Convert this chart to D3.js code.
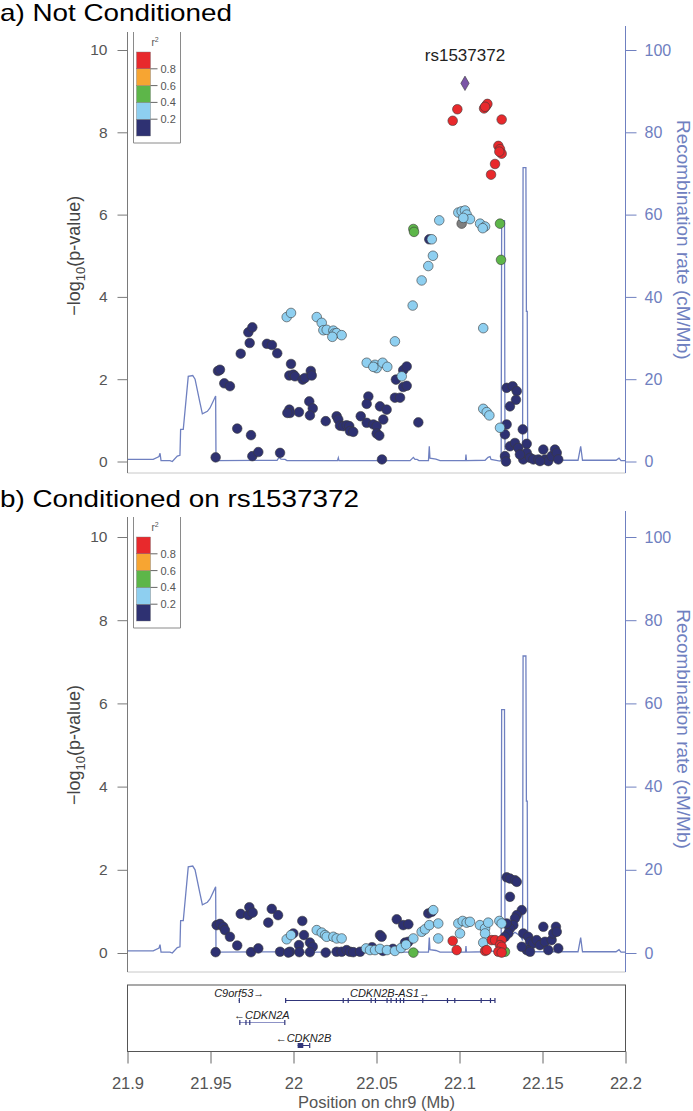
<!DOCTYPE html>
<html><head><meta charset="utf-8">
<script src="https://cdn.jsdelivr.net/npm/d3@7"></script>
<style>body{margin:0;background:#fff;} svg{display:block;font-family:"Liberation Sans",Arial,Helvetica,sans-serif;}</style>
</head><body>
<svg id="c" width="693" height="1111"></svg>
<script>
// ---------------- data ----------------
const xTicks = [21.9, 21.95, 22, 22.05, 22.1, 22.15, 22.2];
const xTickLabels = ["21.9", "21.95", "22", "22.05", "22.1", "22.15", "22.2"];
const yTicks = [0, 2, 4, 6, 8, 10];
const recTicks = [0, 20, 40, 60, 80, 100];
const legendBreaks = ["0.8", "0.6", "0.4", "0.2"];
const r2Colors = ["#2e3172", "#8ecff0", "#5db649", "#f7a532", "#e8292c"]; // 0-0.2 ... 0.8-1
const indexSNP = "rs1537372";
const panelTitles = ["a) Not Conditioned", "b) Conditioned on rs1537372"];

// top panel: [position Mb, -log10 p]
const topGray = [[22.1013, 5.78]];
const topNavy = [
 [21.9531,0.10],[21.9545,2.20],[21.9557,2.23],[21.9583,1.90],[21.9617,1.83],[21.9661,0.80],[21.9682,2.62],
 [21.9728,3.14],[21.9752,3.26],[21.9736,2.88],[21.9744,0.64],[21.9752,0.13],[21.9788,0.23],[21.9840,2.86],
 [21.9870,2.83],[21.9902,2.63],[21.9919,0.21],[21.9985,2.37],[21.9975,2.09],[21.9999,2.11],[22.0009,2.07],
 [21.9975,1.26],[21.9979,1.18],[21.9963,1.18],[22.0033,1.20],[22.0055,1.99],[22.0069,2.03],[22.0104,2.20],
 [22.0110,2.09],[22.0095,1.46],[22.0116,1.29],[22.0099,1.12],[22.0194,0.98],[22.0260,1.10],[22.0270,1.02],
 [22.0280,0.87],[22.0300,0.86],[22.0320,0.88],[22.0336,0.86],[22.0340,0.74],[22.0360,0.72],[22.0405,1.10],
 [22.0441,0.94],[22.0451,1.58],[22.0441,1.40],[22.0521,1.34],[22.0561,1.26],[22.0541,1.02],[22.0481,0.90],
 [22.0501,0.86],[22.0501,0.68],[22.0517,0.63],[22.0533,0.05],[22.0617,1.99],[22.0661,2.22],[22.0682,2.31],
 [22.0661,1.81],[22.0682,1.84],[22.0611,1.55],[22.0642,1.55],[22.0752,0.95],[22.1284,1.79],[22.1320,1.83],
 [22.1345,1.71],[22.1340,1.50],[22.1304,1.34],[22.1284,0.90],[22.1274,0.66],[22.1381,0.78],[22.1274,0.13],
 [22.1280,0.00],[22.1304,0.37],[22.1334,0.45],[22.1354,0.33],[22.1405,0.43],[22.1384,0.05],[22.1405,0.21],
 [22.1425,0.09],[22.1445,0.05],[22.1475,0.05],[22.1505,0.29],[22.1515,0.05],[22.1535,0.01],[22.1555,0.13],
 [22.1575,0.29],[22.1586,0.21],[22.1595,0.05],[22.1485,0.01],[22.1364,0.17],[22.0818,5.40]
];
const topLightBlue = [
 [21.9959,3.51],[21.9985,3.61],[22.0140,3.51],[22.0170,3.37],[22.0180,3.19],[22.0200,3.20],[22.0240,3.18],
 [22.0246,3.11],[22.0260,3.12],[22.0290,3.07],[22.0234,3.03],[22.0441,2.40],[22.0491,2.35],[22.0501,2.27],
 [22.0537,2.40],[22.0565,2.30],[22.0481,2.30],[22.0652,2.07],[22.0611,2.92],[22.0718,3.79],[22.0772,4.40],
 [22.0812,4.75],[22.0840,5.00],[22.0833,5.40],[22.0878,5.86],
 [22.1143,3.24],[22.1143,1.28],[22.1164,1.20],[22.1180,1.12],[22.1244,0.82],
 [22.0993,6.05],[22.1013,6.08],[22.1033,6.10],[22.1043,6.00],[22.1063,5.89],[22.1023,5.92],
 [22.1124,5.78],[22.1154,5.71],[22.1140,5.67]
];
const topGreen = [[22.0722,5.65],[22.0726,5.58],[22.1244,5.78],[22.1250,4.90]];
const topOrange = [];
const topRed = [
 [22.0987,8.56],[22.0959,8.28],[22.1148,8.58],[22.1160,8.64],[22.1168,8.69],[22.1154,8.62],[22.1254,8.31],
 [22.1234,7.67],[22.1244,7.59],[22.1254,7.48],[22.1240,7.53],[22.1214,7.23],[22.1190,6.97]
];
const topIndex = [[22.1033, 9.19]];

// bottom panel
const botGray = [[22.1505,0.23]];
const botNavy = [
 [21.9531,0.02],[21.9537,0.67],[21.9557,0.70],[21.9577,0.63],[21.9587,0.55],[21.9617,0.39],[21.9661,0.18],
 [21.9682,0.94],[21.9728,0.91],[21.9734,1.10],[21.9754,0.97],[21.9744,0.02],[21.9788,0.11],[21.9869,1.06],
 [21.9907,0.91],[21.9848,0.73],[21.9919,0.03],[21.9979,0.03],[21.9969,0.01],[21.9999,0.47],[22.0033,0.19],
 [22.0035,0.02],[22.0053,0.77],[22.0063,0.43],[22.0099,0.25],[22.0116,0.15],[22.0099,0.02],[22.0194,0.01],
 [22.0260,0.03],[22.0290,0.03],[22.0320,0.07],[22.0340,0.03],[22.0360,0.02],[22.0401,0.03],[22.0521,0.43],
 [22.0531,0.39],[22.0622,0.81],[22.0661,0.67],[22.0692,0.69],[22.0812,0.95],[22.0833,0.99],[22.0672,0.25],
 [22.0692,0.27],[22.0473,0.14],[22.0539,0.05],[22.0599,0.10],
 [22.1284,1.82],[22.1304,1.79],[22.1334,1.75],[22.1345,1.71],[22.1304,1.35],[22.1375,1.03],[22.1345,0.91],
 [22.1334,0.83],[22.1324,0.67],[22.1304,0.59],[22.1284,0.71],[22.1294,0.47],[22.1274,0.39],[22.1384,0.47],
 [22.1414,0.39],[22.1425,0.27],[22.1445,0.23],[22.1465,0.31],[22.1485,0.19],[22.1505,0.63],[22.1515,0.27],
 [22.1535,0.07],[22.1555,0.31],[22.1565,0.47],[22.1581,0.63],[22.1586,0.51],[22.1595,0.11],[22.1405,0.07],
 [22.1425,0.03],[22.1375,0.15]
];
const botLightBlue = [
 [21.9959,0.33],[21.9985,0.43],[22.0140,0.55],[22.0170,0.49],[22.0190,0.43],[22.0200,0.39],[22.0240,0.39],
 [22.0260,0.35],[22.0290,0.35],[22.0437,0.11],[22.0461,0.07],[22.0491,0.07],[22.0521,0.10],[22.0563,0.07],
 [22.0611,0.05],[22.0648,0.12],[22.0678,0.20],[22.0722,0.35],[22.0772,0.51],[22.0792,0.57],[22.0818,0.67],
 [22.0842,1.03],[22.0872,0.71],[22.0872,0.35],[22.0993,0.71],[22.1003,0.47],[22.1019,0.77],[22.1043,0.73],
 [22.1063,0.75],[22.1123,0.67],[22.1154,0.59],[22.1173,0.73],[22.1154,0.47],[22.1143,0.25],[22.1240,0.77],
 [22.1254,0.71]
];
const botGreen = [[22.0722,0.01],[22.1274,0.03]];
const botOrange = [];
const botRed = [
 [22.0959,0.29],[22.0983,0.07],[22.1154,0.05],[22.1164,0.07],[22.1194,0.31],[22.1214,0.31],[22.1254,0.31],
 [22.1244,0.19],[22.1254,0.15],[22.1234,0.03],[22.1254,0.01]
];

// recombination rate: [position Mb, cM/Mb]
const recomb = [
 [21.9000,0.5],[21.9155,0.5],[21.9190,1.2],[21.9196,2.0],[21.9202,0.2],[21.9256,0.2],[21.9270,0.0],[21.9300,1.3],
 [21.9316,1.5],[21.9320,7.8],[21.9336,7.8],[21.9366,20.7],[21.9393,20.9],[21.9407,20.0],[21.9437,14.2],
 [21.9451,11.6],[21.9481,12.2],[21.9497,13.0],[21.9531,15.9],[21.9533,1.3],[21.9539,0.2],[21.9901,0.3],
 [21.9913,1.0],[21.9925,0.6],[21.9949,0.5],[21.9961,0.2],[22.0265,0.2],[22.0270,0.9],[22.0274,0.2],
 [22.0702,0.2],[22.0722,1.0],[22.0732,0.5],[22.0744,0.5],[22.0756,0.2],[22.0813,0.2],[22.0818,3.7],
 [22.0822,0.8],[22.0858,0.6],[22.0883,0.2],[22.1036,0.2],[22.1039,1.7],[22.1042,0.2],[22.1154,0.3],
 [22.1172,1.0],[22.1184,1.2],[22.1190,0.5],[22.1244,0.1],[22.1251,0.5],[22.1254,58.5],[22.1271,58.5],
 [22.1274,3.0],[22.1304,4.0],[22.1334,5.0],[22.1370,4.0],[22.1380,3.0],[22.1383,71.4],[22.1400,71.4],
 [22.1403,36.5],[22.1408,36.5],[22.1411,1.0],[22.1425,0.3],[22.1714,0.3],[22.1730,3.7],[22.1741,0.3],
 [22.1943,0.3],[22.1961,0.8],[22.1973,0.2],[22.2000,0.2]
];

// genes
const geneNames = ["C9orf53", "CDKN2B-AS1", "CDKN2A", "CDKN2B"];
const geneStrand = ["+", "+", "-", "-"];
const geneRow = [0, 0, 1, 2];
const geneSpan = [[21.9670, 21.9676], [21.9949, 22.1214], [21.9673, 21.9945], [22.0025, 22.0095]];
const geneExons = [
 [[21.9670, 21.9676]],
 [[21.9949,21.9951],[22.0296,22.0298],[22.0326,22.0328],[22.0464,22.0466],[22.0490,22.0492],[22.0560,22.0563],
  [22.0584,22.0587],[22.0616,22.0619],[22.0640,22.0643],[22.0660,22.0663],[22.0775,22.0777],[22.0924,22.0926],
  [22.0968,22.0970],[22.1127,22.1129],[22.1183,22.1186],[22.1210,22.1214]],
 [[21.9673,21.9680],[21.9710,21.9713],[21.9733,21.9736],[21.9944,21.9945]],
 [[22.0025,22.0059],[22.0094,22.0095]]
];

// ---------------- drawing ----------------
const svg = d3.select("#c");
const x = d3.scaleLinear().domain([21.9, 22.2]).range([127.5, 625.5]);
const leftAxisCol = "#7a7a7a", leftTextCol = "#555", recCol = "#6f80c0";

const panels = [
 {title: panelTitles[0], titleY: 21, titleW: 232, top: 32, bottom: 473, y0: 461.5, y10: 50,
  sets: [[topGray,"#7f7f7f"],[topNavy,r2Colors[0]],[topLightBlue,r2Colors[1]],[topGreen,r2Colors[2]],[topOrange,r2Colors[3]],[topRed,r2Colors[4]]],
  index: topIndex},
 {title: panelTitles[1], titleY: 507, titleW: 359, top: 517, bottom: 972, y0: 953, y10: 537,
  sets: [[botGray,"#7f7f7f"],[botNavy,r2Colors[0]],[botLightBlue,r2Colors[1]],[botGreen,r2Colors[2]],[botOrange,r2Colors[3]],[botRed,r2Colors[4]]],
  index: []}
];

panels.forEach(p => {
  const g = svg.append("g");
  const y = d3.scaleLinear().domain([0, 10]).range([p.y0, p.y10]);
  const yr = d3.scaleLinear().domain([0, 100]).range([p.y0, p.y10]);

  g.append("text").attr("x", 0).attr("y", p.titleY).attr("font-size", 24).attr("fill", "#000")
    .attr("textLength", p.titleW).attr("lengthAdjust", "spacingAndGlyphs").text(p.title);

  // frame bottom
  g.append("line").attr("x1", 127.5).attr("x2", 625.5).attr("y1", p.bottom).attr("y2", p.bottom)
    .attr("stroke", "#c8c8c8").attr("stroke-width", 1);

  // recombination line
  const line = d3.line().x(d => x(d[0])).y(d => yr(d[1]));
  g.append("path").datum(recomb).attr("d", line).attr("fill", "none").attr("stroke", recCol).attr("stroke-width", 1.3);

  // left axis
  const la = g.append("g").attr("transform", "translate(127.5,0)")
    .call(d3.axisLeft(y).tickValues(yTicks).tickSize(10).tickPadding(10).tickFormat(d3.format("d")));
  la.select(".domain").remove();
  la.append("line").attr("x1", 0).attr("x2", 0).attr("y1", p.top).attr("y2", p.bottom).attr("stroke", leftAxisCol);
  la.selectAll(".tick line").attr("stroke", leftAxisCol);
  la.selectAll(".tick text").attr("fill", leftTextCol).attr("font-size", 15.5).attr("font-family", "Liberation Sans, Arial, sans-serif");

  // right axis
  const ra = g.append("g").attr("transform", "translate(625.5,0)")
    .call(d3.axisRight(yr).tickValues(recTicks).tickSize(11).tickPadding(8).tickFormat(d3.format("d")));
  ra.select(".domain").remove();
  ra.append("line").attr("x1", 0).attr("x2", 0).attr("y1", p.top - 6).attr("y2", p.bottom).attr("stroke", recCol);
  ra.selectAll(".tick line").attr("stroke", recCol);
  ra.selectAll(".tick text").attr("fill", recCol).attr("font-size", 16).attr("font-family", "Liberation Sans, Arial, sans-serif");

  // axis titles
  const cy = (p.y0 + p.y10) / 2;
  const lt = g.append("text").attr("transform", `translate(80,${cy}) rotate(-90)`).attr("text-anchor", "middle")
    .attr("font-size", 18).attr("fill", "#444");
  lt.append("tspan").text("\u2212log");
  lt.append("tspan").attr("font-size", 13).attr("dy", 5).text("10");
  lt.append("tspan").attr("dy", -5).text("(p-value)");
  g.append("text").attr("transform", `translate(677,${cy - 16}) rotate(90)`).attr("text-anchor", "middle")
    .attr("font-size", 19).attr("fill", recCol).text("Recombination rate (cM/Mb)");

  // points
  p.sets.forEach(([arr, col]) => {
    g.append("g").selectAll("circle").data(arr).join("circle")
      .attr("cx", d => x(d[0])).attr("cy", d => y(d[1])).attr("r", 4.8)
      .attr("fill", col).attr("stroke", "#3a3a3a").attr("stroke-width", 0.6);
  });
  p.index.forEach(d => {
    g.append("path").attr("d", d3.symbol(d3.symbolDiamond, 60)())
      .attr("transform", `translate(${x(d[0])},${y(d[1])})`)
      .attr("fill", "#7b55a6").attr("stroke", "#3a3a3a").attr("stroke-width", 0.6);
    g.append("text").attr("x", x(d[0])).attr("y", y(d[1]) - 22).attr("text-anchor", "middle")
      .attr("font-size", 17).attr("fill", "#222").text(indexSNP);
  });

  // legend
  const lg = g.append("g");
  const lx = 133.5, ltop = p.top, lbot = p.top + 111;
  lg.append("path").attr("d", `M${lx},${ltop}V${lbot}H${lx + 47}V${ltop}`).attr("fill", "none").attr("stroke", "#8a8a8a");
  const sw = d3.scaleLinear().domain([0, 5]).range([lbot - 7, ltop + 20]);
  r2Colors.forEach((c, i) => {
    lg.append("rect").attr("x", lx + 3).attr("y", sw(i + 1)).attr("width", 14).attr("height", sw(i) - sw(i + 1))
      .attr("fill", c).attr("stroke", "#777").attr("stroke-width", 0.4);
  });
  legendBreaks.forEach((t, i) => {
    const yy = sw(4 - i);
    lg.append("line").attr("x1", lx + 17).attr("x2", lx + 24).attr("y1", yy).attr("y2", yy).attr("stroke", "#666");
    lg.append("text").attr("x", lx + 27).attr("y", yy + 4).attr("font-size", 11).attr("fill", "#555").text(t);
  });
  const rl = lg.append("text").attr("x", lx + 18).attr("y", ltop + 14).attr("font-size", 10).attr("fill", "#555");
  rl.append("tspan").text("r");
  rl.append("tspan").attr("font-size", 7).attr("dy", -4).text("2");
});

// gene panel
const gTop = 985, gBot = 1051.5;
const gp = svg.append("g");
gp.append("rect").attr("x", 127.5).attr("y", gTop).attr("width", 498).attr("height", gBot - gTop)
  .attr("fill", "none").attr("stroke", "#555").attr("stroke-width", 1);
const rowY = [1000.5, 1022.5, 1045.5];
geneNames.forEach((n, i) => {
  const yy = rowY[geneRow[i]];
  const s = geneSpan[i];
  gp.append("line").attr("x1", x(s[0])).attr("x2", x(s[1])).attr("y1", yy).attr("y2", yy)
    .attr("stroke", i === 2 ? "#8d92c6" : "#30357a").attr("stroke-width", 1);
  geneExons[i].forEach(e => {
    const w = Math.max(1.2, x(e[1]) - x(e[0]));
    gp.append("rect").attr("x", x(e[0])).attr("y", yy - 2.5).attr("width", w).attr("height", 5).attr("fill", "#30357a");
  });
  const mid = (x(s[0]) + x(s[1])) / 2;
  const label = geneStrand[i] === "+" ? n + "\u2192" : "\u2190" + n;
  gp.append("text").attr("x", mid).attr("y", yy - 4).attr("text-anchor", "middle")
    .attr("font-size", 11).attr("font-style", "italic").attr("fill", "#222").text(label);
});

// x axis
const xa = svg.append("g").attr("transform", `translate(0,${gBot})`)
  .call(d3.axisBottom(x).tickValues(xTicks).tickSize(12).tickPadding(14).tickFormat((d, i) => xTickLabels[i]));
xa.select(".domain").remove();
xa.selectAll(".tick line").attr("stroke", "#666");
xa.selectAll(".tick text").attr("fill", "#555").attr("font-size", 16.5).attr("font-family", "Liberation Sans, Arial, sans-serif");
svg.append("text").attr("x", x(22.05)).attr("y", 1108).attr("text-anchor", "middle").attr("font-size", 16.5)
  .attr("fill", "#555").text("Position on chr9 (Mb)");
</script>
</body></html>
